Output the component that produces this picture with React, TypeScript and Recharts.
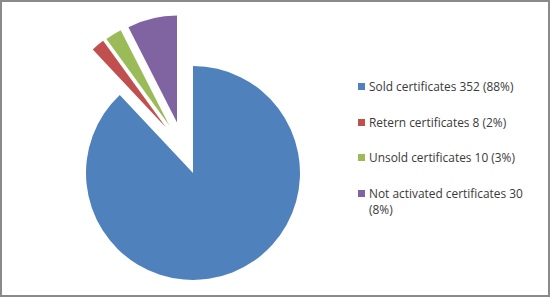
import React from "react";
import { PieChart, Pie, Cell, Sector, Legend } from "recharts";

const categories = [
  "Sold certificates",
  "Retern certificates",
  "Unsold certificates",
  "Not activated certificates",
];
const counts = [352, 8, 10, 30];
const percents = ["88%", "2%", "3%", "8%"];
const colors = ["#4F81BD", "#C0504D", "#9BBB59", "#8064A2"];

const data = categories.map((name, i) => ({
  name,
  value: counts[i],
  label: `${name} ${counts[i]} (${percents[i]})`,
}));

const RAD = Math.PI / 180;
const total = counts.reduce((a, b) => a + b, 0);
// mid angle of the exploded group (everything after the first slice)
const groupMid = (90 - (360 * counts[0]) / total + (90 - 360)) / 2;

function ExplodedSlice(props: any) {
  const { cx, cy, midAngle, index } = props;
  const dist = index === 0 ? 0 : 53;
  const dir = (midAngle + groupMid) / 2;
  const dx = dist * Math.cos(-dir * RAD);
  const dy = dist * Math.sin(-dir * RAD);
  return <Sector {...props} cx={cx + dx} cy={cy + dy} />;
}

function LegendBox() {
  return (
    <div style={{ width: 165, fontFamily: "'Open Sans', 'Liberation Sans', sans-serif", fontSize: 11.9, color: "#3a3a3a" }}>
      {data.map((d, i) => (
        <div key={d.name} style={{ display: "flex", alignItems: "flex-start", marginBottom: 19.5, lineHeight: "16px" }}>
          <span style={{ width: 7, height: 7, background: colors[i], marginTop: 5, marginRight: 4, flexShrink: 0 }} />
          <span>{d.label}</span>
        </div>
      ))}
    </div>
  );
}

export default function App() {
  return (
    <div style={{ position: "absolute", left: 0, top: 0, width: 550, height: 297, boxSizing: "border-box", border: "2px solid #8a8a8a", background: "#fff" }}>
      <PieChart width={546} height={293} margin={{ top: 0, right: 0, bottom: 0, left: 0 }}>
        <Pie
          data={data}
          dataKey="value"
          nameKey="name"
          cx={191}
          cy={171}
          outerRadius={107}
          startAngle={90}
          endAngle={-270}
          stroke="none"
          shape={ExplodedSlice}
          isAnimationActive={false}
        >
          {data.map((d, i) => (
            <Cell key={d.name} fill={colors[i]} />
          ))}
        </Pie>
        <Legend
          layout="vertical"
          align="right"
          verticalAlign="top"
          content={() => <LegendBox />}
          wrapperStyle={{ left: 356, top: 76, width: 175 }}
        />
      </PieChart>
    </div>
  );
}
